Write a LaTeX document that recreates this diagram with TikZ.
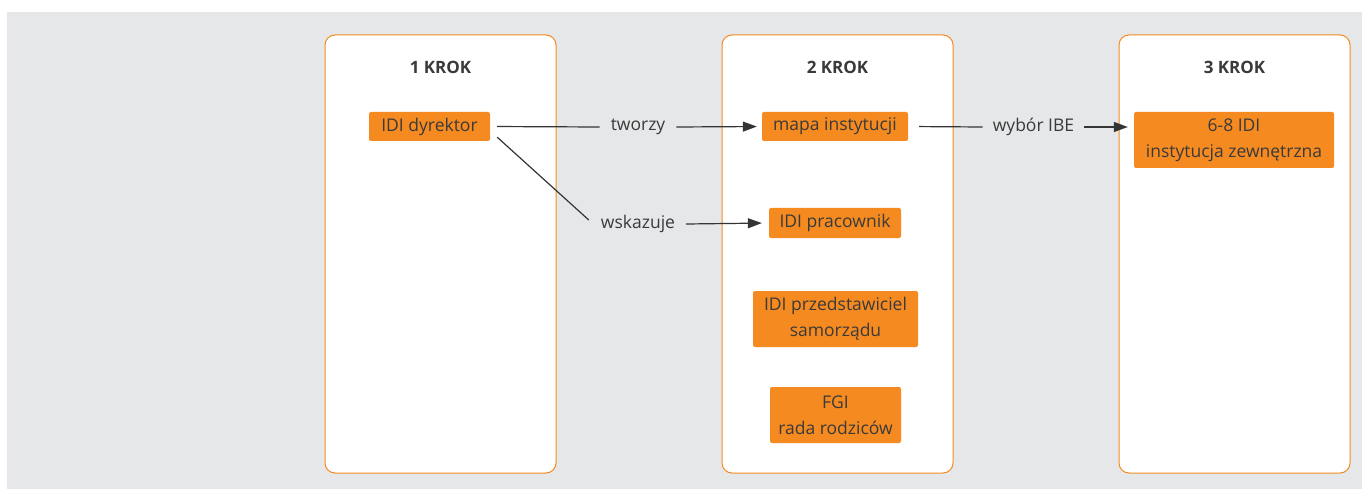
\documentclass[tikz,border=0pt]{standalone}
\usepackage{fontspec}
\setmainfont{Open Sans}
\usepackage{xcolor}
\usetikzlibrary{arrows.meta}

\definecolor{bggrey}{HTML}{E6E7E8}
\definecolor{krokorange}{HTML}{F58A20}
\definecolor{txtgrey}{HTML}{3A3A3A}

\begin{document}
\begin{tikzpicture}[
  x=1pt, y=-1pt,
  every node/.style={text=txtgrey, font=\fontsize{17.5}{26}\selectfont},
  panel/.style={draw=krokorange, line width=1pt, fill=white, rounded corners=10pt,
    minimum width=231pt, minimum height=438pt, inner sep=0pt},
  title/.style={font=\fontsize{17}{20}\bfseries},
  actor/.style={fill=krokorange, rounded corners=2pt, align=center, inner sep=0pt},
  verb/.style={inner xsep=11pt, inner ysep=2pt},
  link/.style={line width=1.2pt, draw=txtgrey!90!black},
  tip/.style={link, -{Triangle[length=14pt,width=10pt]}}
]
  \useasboundingbox (0,0) rectangle (1362,489);
  \fill[bggrey] (7,12) rectangle (1362,489);

  % the three steps
  \node[panel] (p1) at (440.5,254) {};
  \node[panel] (p2) at (837.5,254) {};
  \node[panel] (p3) at (1234.5,254) {};
  \node[title] (t1) at (440.5,67) {1 KROK};
  \node[title] (t2) at (837.5,67) {2 KROK};
  \node[title] (t3) at (1234.5,67) {3 KROK};

  % boxes
  \node[actor, minimum width=121pt, minimum height=29pt] (dyr) at (429.5,126.5) {IDI dyrektor};
  \node[actor, minimum width=146pt, minimum height=29pt] (mapa) at (835,126.5) {mapa instytucji};
  \node[actor, minimum width=132pt, minimum height=30pt] (prac) at (835,223) {IDI pracownik};
  \node[actor, minimum width=165pt, minimum height=56pt] (samo) at (835.5,319) {IDI przedstawiciel\\samorządu};
  \node[actor, minimum width=131pt, minimum height=56pt] (fgi) at (835.5,415) {FGI\\rada rodziców};
  \node[actor, minimum width=200pt, minimum height=56pt] (zewn) at (1234,140) {6-8 IDI\\instytucja zewnętrzna};

  % labels on the links
  \node[verb] (tworzy) at (638,127) {tworzy};
  \node[verb] (wsk) at (638,224) {wskazuje};
  \node[verb, inner xsep=10pt] (wybor) at (1033.5,127) {wybór IBE};

  % links
  \draw[link, shorten <=7pt] (dyr.east) -- (tworzy.west);
  \draw[tip, shorten >=5pt] (tworzy.east) -- (mapa.west);
  \draw[link] ([shift={(7,-4)}]dyr.south east) -- ([shift={(-1,-4)}]wsk.west);
  \draw[tip, shorten >=7pt] (wsk.east) -- (prac.west);
  \draw[link, shorten <=11pt] (mapa.east) -- (wybor.west);
  \draw[tip, shorten >=6pt] (wybor.east) -- (wybor.east -| zewn.west);
\end{tikzpicture}
\end{document}
